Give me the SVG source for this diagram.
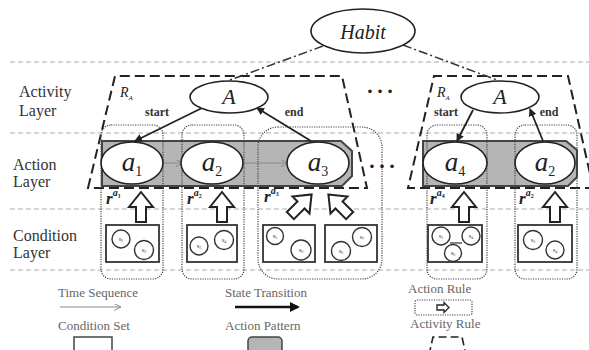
<svg xmlns="http://www.w3.org/2000/svg" width="589" height="350" viewBox="0 0 589 350">
<style>
  text{font-family:'Liberation Serif','Tinos','Times New Roman','DejaVu Serif',serif}
  .lbl{font-size:16px;fill:#333}
  .sep{stroke:#aaa;stroke-width:1;stroke-dasharray:5 3;fill:none}
  .ell{fill:#fff;stroke:#222;stroke-width:1.6}
  .band{fill:#b5b5b5;stroke:#444;stroke-width:2}
  .rule{fill:none;stroke:#444;stroke-width:1.2;stroke-dasharray:1.2 1.2}
  .act{fill:none;stroke:#222;stroke-width:2;stroke-dasharray:10 5}
  .cset{fill:#fff;stroke:#333;stroke-width:1.8}
  .st{fill:#fff;stroke:#333;stroke-width:1.4}
  .stt{font-size:7px;fill:#444;text-anchor:middle}
  .blk{fill:#fff;stroke:#222;stroke-width:2}
  .it{font-style:italic;fill:#222}
  .sm{font-size:12px;font-weight:bold;fill:#333}
  .leg{font-size:13px;fill:#666}
  .hab{fill:none;stroke:#333;stroke-width:1.5;stroke-dasharray:9 3 2 3}
  .solid{fill:none;stroke:#222;stroke-width:1.8}
  .ts{fill:none;stroke:#888;stroke-width:1}
</style>
<defs>
  <marker id="ah" markerWidth="8" markerHeight="8" refX="7" refY="4" orient="auto" markerUnits="userSpaceOnUse">
    <path d="M0,0 L8,4 L0,8 Z" fill="#222"/>
  </marker>
  <marker id="ahg" markerWidth="7" markerHeight="7" refX="6" refY="3.5" orient="auto" markerUnits="userSpaceOnUse">
    <path d="M0,0 L7,3.5 L0,7" fill="none" stroke="#888" stroke-width="1"/>
  </marker>
  <marker id="ahb" markerWidth="10" markerHeight="10" refX="8" refY="5" orient="auto" markerUnits="userSpaceOnUse">
    <path d="M0,0 L10,5 L0,10 Z" fill="#111"/>
  </marker>
  <path id="uparrow" d="M0,-15 L12,0 L5,0 L5,15 L-5,15 L-5,0 L-12,0 Z"/>
</defs>
<rect width="589" height="350" fill="#fff"/>

<g id="separators">
  <line class="sep" x1="10" y1="62" x2="589" y2="62"/>
  <line class="sep" x1="10" y1="133" x2="589" y2="133"/>
  <line class="sep" x1="10" y1="209" x2="589" y2="209"/>
  <line class="sep" x1="10" y1="270" x2="589" y2="270"/>
</g>

<g id="layer-labels">
  <text class="lbl" x="19" y="97">Activity</text>
  <text class="lbl" x="19" y="116">Layer</text>
  <text class="lbl" x="13" y="170">Action</text>
  <text class="lbl" x="13" y="187">Layer</text>
  <text class="lbl" x="13" y="241">Condition</text>
  <text class="lbl" x="13" y="258">Layer</text>
</g>

<g id="band1"><path class="band" d="M102,141 L341,141 L352,151 L352,176 L342,186 L102,186 Z"/></g>
<g id="band2"><path class="band" d="M423,141 L566,141 L577,150 L577,177 L568,186 L423,186 Z"/></g>

<g id="activity-rule-1">
  <path class="act" d="M88,188 L115,76 L342,76 L367,188 Z"/>
  <text class="it" x="120" y="97" font-size="14">R<tspan font-size="7" dy="3">A</tspan></text>
</g>
<g id="activity-rule-2">
  <path class="act" d="M595,188 L408,188 L434,76 L568,76 L595,196"/>
  <text class="it" x="437" y="97" font-size="14">R<tspan font-size="7" dy="3">A</tspan></text>
</g>

<g id="rule-boxes">
  <rect class="rule" x="101" y="125" width="62" height="154" rx="10"/>
  <rect class="rule" x="182" y="125" width="62" height="154" rx="10"/>
  <rect class="rule" x="258" y="127" width="124" height="152" rx="20"/>
  <rect class="rule" x="427" y="125" width="60" height="154" rx="10"/>
  <rect class="rule" x="515" y="125" width="62" height="154" rx="10"/>
</g>

<g id="connectors">
  <line class="hab" x1="323" y1="46" x2="230" y2="80"/>
  <line class="hab" x1="403" y1="45" x2="497" y2="80"/>
  <line class="solid" x1="202" y1="108" x2="135" y2="141" marker-end="url(#ah)"/>
  <line class="solid" x1="311" y1="141" x2="257" y2="108" marker-end="url(#ah)"/>
  <line class="solid" x1="473" y1="110" x2="457" y2="141" marker-end="url(#ah)"/>
  <line class="solid" x1="543" y1="141" x2="530" y2="109" marker-end="url(#ah)"/>
  <line class="ts" x1="163" y1="163" x2="182" y2="163" marker-end="url(#ahg)"/>
  <line class="ts" x1="243" y1="163" x2="287" y2="163" marker-end="url(#ahg)"/>
</g>

<g id="habit">
  <ellipse class="ell" cx="363" cy="31" rx="52" ry="22"/>
  <text class="it" x="363" y="39" font-size="20" text-anchor="middle">Habit</text>
</g>
<g id="activity-A1">
  <ellipse class="ell" cx="229" cy="97" rx="39" ry="16"/>
  <text class="it" x="229" y="104" font-size="22" text-anchor="middle">A</text>
  <text class="sm" x="157" y="116" text-anchor="middle">start</text>
  <text class="sm" x="294" y="116" text-anchor="middle">end</text>
</g>
<g id="activity-A2">
  <ellipse class="ell" cx="500" cy="97" rx="39" ry="16"/>
  <text class="it" x="500" y="104" font-size="22" text-anchor="middle">A</text>
  <text class="sm" x="446" y="116" text-anchor="middle">start</text>
  <text class="sm" x="549" y="116" text-anchor="middle">end</text>
</g>
<g id="ellipsis">
  <text x="380" y="93" font-size="30" fill="#222" text-anchor="middle">…</text>
  <text x="382" y="168" font-size="30" fill="#222" text-anchor="middle">…</text>
</g>

<g id="action-a1">
  <ellipse class="ell" cx="132" cy="163" rx="31" ry="21"/>
  <text class="it" x="132" y="171" font-size="27" text-anchor="middle">a<tspan font-style="normal" font-size="14" dy="5">1</tspan></text>
</g>
<g id="action-a2">
  <ellipse class="ell" cx="212" cy="163" rx="31" ry="21"/>
  <text class="it" x="212" y="171" font-size="27" text-anchor="middle">a<tspan font-style="normal" font-size="14" dy="5">2</tspan></text>
</g>
<g id="action-a3">
  <ellipse class="ell" cx="318" cy="163" rx="31" ry="21"/>
  <text class="it" x="318" y="171" font-size="27" text-anchor="middle">a<tspan font-style="normal" font-size="14" dy="5">3</tspan></text>
</g>
<g id="action-a4">
  <ellipse class="ell" cx="455" cy="163" rx="32" ry="21"/>
  <text class="it" x="455" y="171" font-size="27" text-anchor="middle">a<tspan font-style="normal" font-size="14" dy="5">4</tspan></text>
</g>
<g id="action-a2b">
  <ellipse class="ell" cx="545" cy="163" rx="30" ry="21"/>
  <text class="it" x="545" y="171" font-size="27" text-anchor="middle">a<tspan font-style="normal" font-size="14" dy="5">2</tspan></text>
</g>

<g id="rule-labels">
  <text class="it" x="106" y="204" font-size="17" font-weight="bold">r<tspan font-size="10" dy="-8">a</tspan><tspan font-size="6" dy="2" font-style="normal">1</tspan></text>
  <text class="it" x="187" y="204" font-size="17" font-weight="bold">r<tspan font-size="10" dy="-8">a</tspan><tspan font-size="6" dy="2" font-style="normal">2</tspan></text>
  <text class="it" x="264" y="202" font-size="17" font-weight="bold">r<tspan font-size="10" dy="-8">a</tspan><tspan font-size="6" dy="2" font-style="normal">3</tspan></text>
  <text class="it" x="430" y="204" font-size="17" font-weight="bold">r<tspan font-size="10" dy="-8">a</tspan><tspan font-size="6" dy="2" font-style="normal">4</tspan></text>
  <text class="it" x="519" y="204" font-size="17" font-weight="bold">r<tspan font-size="10" dy="-8">a</tspan><tspan font-size="6" dy="2" font-style="normal">2</tspan></text>
</g>

<g id="block-arrows">
  <use href="#uparrow" class="blk" transform="translate(141,207)"/>
  <use href="#uparrow" class="blk" transform="translate(222,207)"/>
  <use href="#uparrow" class="blk" transform="translate(301,205) rotate(45)"/>
  <use href="#uparrow" class="blk" transform="translate(339,205) rotate(-45)"/>
  <use href="#uparrow" class="blk" transform="translate(464,207)"/>
  <use href="#uparrow" class="blk" transform="translate(555,207)"/>
</g>

<g id="cond-set-1">
  <rect class="cset" x="106" y="225" width="53" height="37"/>
  <circle class="st" cx="121" cy="239" r="9"/><text class="stt" x="121" y="241">s<tspan font-size="4" dy="1">1</tspan></text>
  <circle class="st" cx="144" cy="250" r="9.5"/><text class="stt" x="144" y="252">s<tspan font-size="4" dy="1">2</tspan></text>
</g>
<g id="cond-set-2">
  <rect class="cset" x="187" y="225" width="50" height="37"/>
  <circle class="st" cx="199" cy="246" r="9"/><text class="stt" x="199" y="248">s<tspan font-size="4" dy="1">3</tspan></text>
  <circle class="st" cx="224" cy="240" r="9.5"/><text class="stt" x="224" y="242">s<tspan font-size="4" dy="1">4</tspan></text>
</g>
<g id="cond-set-3a">
  <rect class="cset" x="263" y="225" width="52" height="37"/>
  <circle class="st" cx="275" cy="236" r="8.5"/><text class="stt" x="275" y="238">s<tspan font-size="4" dy="1">5</tspan></text>
  <circle class="st" cx="301" cy="250" r="10"/><text class="stt" x="301" y="252">s<tspan font-size="4" dy="1">6</tspan></text>
</g>
<g id="cond-set-3b">
  <rect class="cset" x="325" y="225" width="52" height="37"/>
  <circle class="st" cx="341" cy="251" r="9.5"/><text class="stt" x="341" y="253">s<tspan font-size="4" dy="1">6</tspan></text>
  <circle class="st" cx="362" cy="237" r="9.5"/><text class="stt" x="362" y="239">s<tspan font-size="4" dy="1">7</tspan></text>
</g>
<g id="cond-set-4">
  <rect class="cset" x="428" y="225" width="54" height="37"/>
  <line x1="450" y1="243" x2="462" y2="243" stroke="#333" stroke-width="1.2"/>
  <circle class="st" cx="441" cy="236" r="9"/><text class="stt" x="441" y="238">s<tspan font-size="4" dy="1">1</tspan></text>
  <circle class="st" cx="471" cy="236" r="9"/><text class="stt" x="471" y="238">s<tspan font-size="4" dy="1">4</tspan></text>
  <circle class="st" cx="453" cy="253" r="8.5"/><text class="stt" x="453" y="255">s<tspan font-size="4" dy="1">6</tspan></text>
</g>
<g id="cond-set-5">
  <rect class="cset" x="518" y="225" width="54" height="37"/>
  <circle class="st" cx="533" cy="240" r="9.5"/><text class="stt" x="533" y="242">s<tspan font-size="4" dy="1">3</tspan></text>
  <circle class="st" cx="555" cy="250" r="9"/><text class="stt" x="555" y="252">s<tspan font-size="4" dy="1">4</tspan></text>
</g>

<g id="legend">
  <text class="leg" x="58" y="297">Time Sequence</text>
  <line class="ts" x1="60" y1="307" x2="120" y2="307" marker-end="url(#ahg)"/>
  <text class="leg" x="58" y="330">Condition Set</text>
  <rect x="74" y="337" width="38" height="22" fill="#fff" stroke="#444" stroke-width="1.5"/>
  <text class="leg" x="225" y="297">State Transition</text>
  <line x1="235" y1="307" x2="298" y2="307" stroke="#111" stroke-width="2.5" marker-end="url(#ahb)"/>
  <text class="leg" x="225" y="330">Action Pattern</text>
  <rect x="248" y="337" width="34" height="22" rx="4" fill="#b5b5b5" stroke="#444" stroke-width="1.5"/>
  <text class="leg" x="408" y="293">Action Rule</text>
  <rect class="rule" x="415" y="300" width="57" height="15" rx="2"/>
  <path d="M437,305 L444,305 L444,302.5 L449,307.5 L444,312.5 L444,310 L437,310 Z" fill="#fff" stroke="#222" stroke-width="1.3"/>
  <text class="leg" x="410" y="328">Activity Rule</text>
  <path d="M429,355 L433,337 L462,337 L466,355" fill="none" stroke="#222" stroke-width="1.6" stroke-dasharray="8 4"/>
</g>
</svg>
